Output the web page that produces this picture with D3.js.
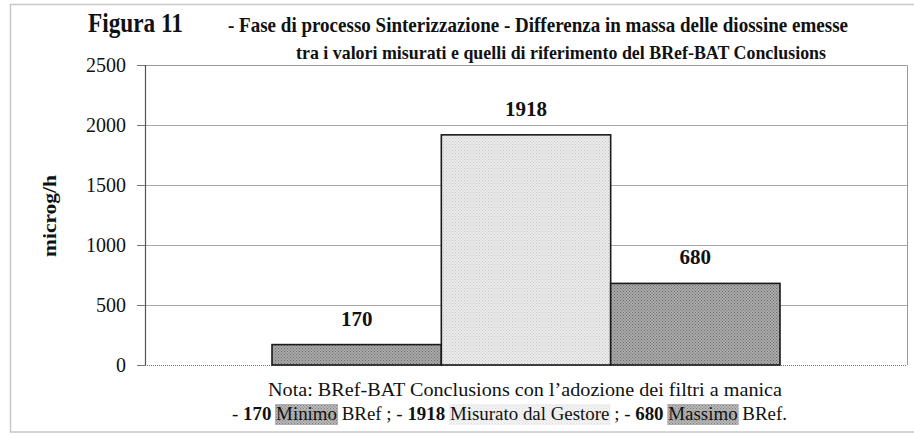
<!DOCTYPE html>
<html><head><meta charset="utf-8">
<script src="https://cdn.jsdelivr.net/npm/d3@7/dist/d3.min.js"></script>
<style>
html,body{margin:0;padding:0;background:#fff;}
svg{display:block;}
text{font-family:"Liberation Serif","Times New Roman",serif;fill:#111;}
</style></head><body>
<svg id="c" width="914" height="434"></svg>
<script>
const categories = ["Minimo BRef", "Misurato dal Gestore", "Massimo BRef"];
const values = [170, 1918, 680];
const yTicks = [0, 500, 1000, 1500, 2000, 2500];
const figLabel = "Figura 11";
const titleLines = [
  "- Fase di processo Sinterizzazione - Differenza in massa delle diossine emesse",
  "tra i valori misurati e quelli di riferimento del BRef-BAT Conclusions"
];
const yLabel = "microg/h";
const noteLine1 = "Nota: BRef-BAT Conclusions con l\u2019adozione dei filtri a manica";
// second note line pieces: [text, bold, highlight]
const noteParts = [
  ["- ", false, null], ["170", true, null], [" ", false, null], ["Minimo", false, "dark"],
  [" BRef ; - ", false, null], ["1918", true, null], [" ", false, null],
  ["Misurato dal Gestore", false, "light"], [" ; - ", false, null], ["680", true, null],
  [" ", false, null], ["Massimo", false, "dark"], [" BRef.", false, null]
];
const barStyle = ["dark", "light", "dark"];

const svg = d3.select("#c");
const defs = svg.append("defs");
function dotPattern(id, base, dot) {
  const p = defs.append("pattern").attr("id", id).attr("patternUnits", "userSpaceOnUse")
    .attr("width", 3).attr("height", 3);
  p.append("rect").attr("width", 3).attr("height", 3).attr("fill", base);
  p.append("rect").attr("x", 0).attr("y", 0).attr("width", 1).attr("height", 1).attr("fill", dot);
  p.append("rect").attr("x", 1.5).attr("y", 1.5).attr("width", 1).attr("height", 1).attr("fill", dot);
}
dotPattern("pDark", "#aaaaaa", "#6a6a6a");
dotPattern("pLight", "#ececec", "#c4c4c4");
const fillFor = s => s === "dark" ? "url(#pDark)" : "url(#pLight)";

// outer frame
svg.append("rect").attr("x", 10.5).attr("y", 4.5).attr("width", 920).attr("height", 427.5)
  .attr("fill", "none").attr("stroke", "#c8c8c8").attr("stroke-width", 1.5);

const plot = {left: 145, right: 907, top: 65, bottom: 365};
const y = d3.scaleLinear().domain([0, 2500]).range([plot.bottom, plot.top]);
const x0 = d3.scaleBand().domain(["g"]).range([plot.left, plot.right]).paddingInner(0).paddingOuter(0.25);
const x1 = d3.scaleBand().domain(categories).range([0, x0.bandwidth()]).padding(0);

// plot border (top/right)
svg.append("path")
  .attr("d", `M${plot.left},${plot.top + 0.5}H${plot.right + 0.5}V${plot.bottom}`)
  .attr("fill", "none").attr("stroke", "#9a9a9a").attr("stroke-width", 1);

// gridlines
svg.append("g").selectAll("line").data(yTicks.filter(d => d > 0 && d < 2500)).join("line")
  .attr("x1", plot.left).attr("x2", plot.right)
  .attr("y1", d => Math.round(y(d)) + 0.5).attr("y2", d => Math.round(y(d)) + 0.5)
  .attr("stroke", "#a8a8a8").attr("stroke-width", 1);

// y axis
const yAxis = d3.axisLeft(y).tickValues(yTicks).tickSize(8).tickPadding(11).tickFormat(d3.format("d"));
const gy = svg.append("g").attr("transform", `translate(${plot.left},0)`).call(yAxis);
gy.select(".domain").attr("stroke", "#555").attr("stroke-width", 1.2);
gy.selectAll(".tick line").attr("stroke", "#777");
gy.selectAll(".tick text").attr("font-size", 20).attr("fill", "#222")
  .style("font-family", "'Liberation Serif',serif");

// bottom axis line
svg.append("line").attr("x1", plot.left).attr("x2", plot.right)
  .attr("y1", plot.bottom + 0.5).attr("y2", plot.bottom + 0.5)
  .attr("stroke", "#777").attr("stroke-width", 1.2).attr("stroke-dasharray", "1,1");

// bars
const gb = svg.append("g").attr("transform", `translate(${x0("g")},0)`);
gb.selectAll("rect").data(values).join("rect")
  .attr("x", (d, i) => x1(categories[i]))
  .attr("y", d => y(d))
  .attr("width", x1.bandwidth())
  .attr("height", d => y(0) - y(d))
  .attr("fill", (d, i) => fillFor(barStyle[i]))
  .attr("stroke", "#1a1a1a").attr("stroke-width", 1.6);
gb.selectAll("text").data(values).join("text")
  .attr("x", (d, i) => x1(categories[i]) + x1.bandwidth() / 2)
  .attr("y", d => y(d) - 19)
  .attr("text-anchor", "middle").attr("font-size", 21).attr("font-weight", "bold")
  .text(d => d);

// titles
svg.append("text").attr("x", 88).attr("y", 32).attr("font-size", 28).attr("font-weight", "bold")
  .attr("textLength", 95).attr("lengthAdjust", "spacingAndGlyphs").text(figLabel);
svg.append("text").attr("x", 228).attr("y", 32).attr("font-size", 21).attr("font-weight", "bold")
  .attr("textLength", 620).attr("lengthAdjust", "spacingAndGlyphs").text(titleLines[0]);
svg.append("text").attr("x", 296).attr("y", 59).attr("font-size", 19.5).attr("font-weight", "bold")
  .attr("textLength", 530).attr("lengthAdjust", "spacingAndGlyphs").text(titleLines[1]);

// y label
svg.append("text").attr("transform", "translate(56,216) rotate(-90)")
  .attr("text-anchor", "middle").attr("font-size", 19).attr("font-weight", "bold")
  .attr("textLength", 82).attr("lengthAdjust", "spacingAndGlyphs").text(yLabel);

// note
svg.append("text").attr("x", 268).attr("y", 396).attr("font-size", 19)
  .attr("textLength", 514).attr("lengthAdjust", "spacingAndGlyphs").text(noteLine1);

const hlG = svg.append("g");
const n2 = svg.append("text").attr("x", 232).attr("y", 420).attr("font-size", 19)
  .attr("textLength", 555).attr("lengthAdjust", "spacingAndGlyphs");
n2.selectAll("tspan").data(noteParts).join("tspan")
  .attr("font-weight", d => d[1] ? "bold" : null)
  .text(d => d[0]);
// highlight backgrounds measured from rendered characters
let idx = 0;
noteParts.forEach(p => {
  const len = p[0].length;
  if (p[2]) {
    const a = n2.node().getExtentOfChar(idx);
    const b = n2.node().getExtentOfChar(idx + len - 1);
    hlG.append("rect").attr("x", a.x - 1).attr("y", 404)
      .attr("width", b.x + b.width - a.x + 2).attr("height", 21)
      .attr("fill", p[2] === "dark" ? "url(#pDark)" : "url(#pLight)")
      .attr("opacity", p[2] === "dark" ? 0.85 : 0.6);
  }
  idx += len;
});
</script>
</body></html>
